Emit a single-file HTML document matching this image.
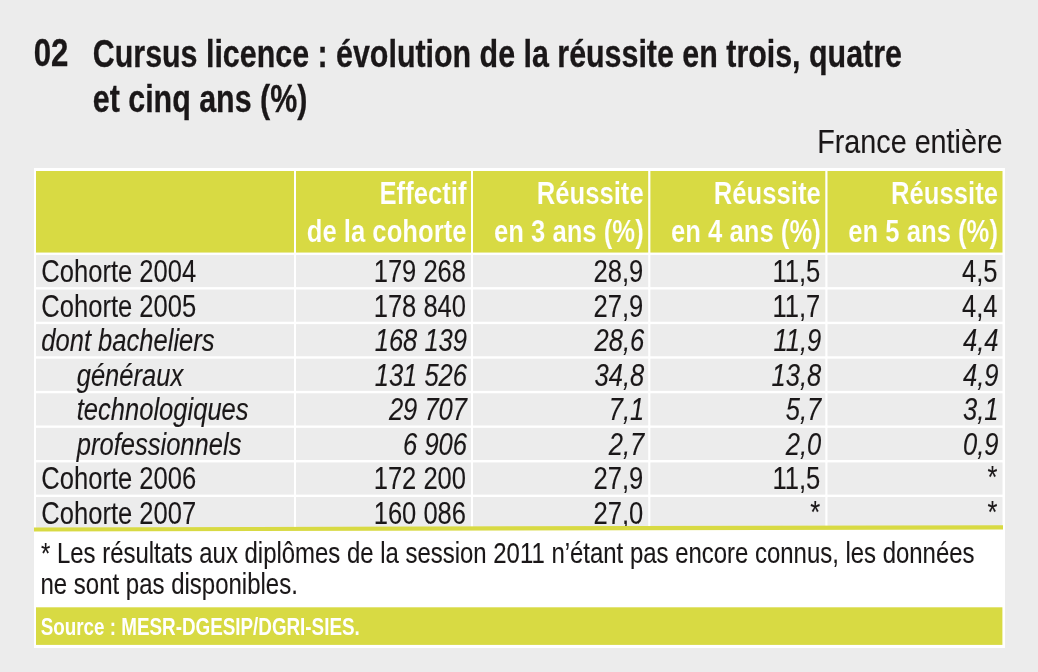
<!DOCTYPE html>
<html lang="fr"><head><meta charset="utf-8"><title>Cursus licence</title>
<style>
html,body{margin:0;padding:0}
body{width:1038px;height:672px;background:#ececec;overflow:hidden}
svg{display:block;font-family:"Liberation Sans",sans-serif;fill:#1a1718}
text{white-space:pre}
</style></head><body>
<svg width="1038" height="672" viewBox="0 0 1038 672">
<g>
<rect x="34" y="168" width="971" height="480" fill="#fff"/>
<rect x="36" y="171" width="258.00" height="81.55" fill="#d8da43"/>
<rect x="296.0" y="171" width="175.00" height="81.55" fill="#d8da43"/>
<rect x="473.0" y="171" width="175.20" height="81.55" fill="#d8da43"/>
<rect x="650.4" y="171" width="174.90" height="81.55" fill="#d8da43"/>
<rect x="827.5" y="171" width="175.00" height="81.55" fill="#d8da43"/>
<rect x="36" y="254.95" width="258.00" height="32.18" fill="#ececec"/>
<rect x="296.0" y="254.95" width="175.00" height="32.18" fill="#ececec"/>
<rect x="473.0" y="254.95" width="175.20" height="32.18" fill="#ececec"/>
<rect x="650.4" y="254.95" width="174.90" height="32.18" fill="#ececec"/>
<rect x="827.5" y="254.95" width="175.00" height="32.18" fill="#ececec"/>
<rect x="36" y="289.53" width="258.00" height="32.18" fill="#ececec"/>
<rect x="296.0" y="289.53" width="175.00" height="32.18" fill="#ececec"/>
<rect x="473.0" y="289.53" width="175.20" height="32.18" fill="#ececec"/>
<rect x="650.4" y="289.53" width="174.90" height="32.18" fill="#ececec"/>
<rect x="827.5" y="289.53" width="175.00" height="32.18" fill="#ececec"/>
<rect x="36" y="324.11" width="258.00" height="32.18" fill="#ececec"/>
<rect x="296.0" y="324.11" width="175.00" height="32.18" fill="#ececec"/>
<rect x="473.0" y="324.11" width="175.20" height="32.18" fill="#ececec"/>
<rect x="650.4" y="324.11" width="174.90" height="32.18" fill="#ececec"/>
<rect x="827.5" y="324.11" width="175.00" height="32.18" fill="#ececec"/>
<rect x="36" y="358.69" width="258.00" height="32.18" fill="#ececec"/>
<rect x="296.0" y="358.69" width="175.00" height="32.18" fill="#ececec"/>
<rect x="473.0" y="358.69" width="175.20" height="32.18" fill="#ececec"/>
<rect x="650.4" y="358.69" width="174.90" height="32.18" fill="#ececec"/>
<rect x="827.5" y="358.69" width="175.00" height="32.18" fill="#ececec"/>
<rect x="36" y="393.27" width="258.00" height="32.18" fill="#ececec"/>
<rect x="296.0" y="393.27" width="175.00" height="32.18" fill="#ececec"/>
<rect x="473.0" y="393.27" width="175.20" height="32.18" fill="#ececec"/>
<rect x="650.4" y="393.27" width="174.90" height="32.18" fill="#ececec"/>
<rect x="827.5" y="393.27" width="175.00" height="32.18" fill="#ececec"/>
<rect x="36" y="427.85" width="258.00" height="32.18" fill="#ececec"/>
<rect x="296.0" y="427.85" width="175.00" height="32.18" fill="#ececec"/>
<rect x="473.0" y="427.85" width="175.20" height="32.18" fill="#ececec"/>
<rect x="650.4" y="427.85" width="174.90" height="32.18" fill="#ececec"/>
<rect x="827.5" y="427.85" width="175.00" height="32.18" fill="#ececec"/>
<rect x="36" y="462.43" width="258.00" height="32.18" fill="#ececec"/>
<rect x="296.0" y="462.43" width="175.00" height="32.18" fill="#ececec"/>
<rect x="473.0" y="462.43" width="175.20" height="32.18" fill="#ececec"/>
<rect x="650.4" y="462.43" width="174.90" height="32.18" fill="#ececec"/>
<rect x="827.5" y="462.43" width="175.00" height="32.18" fill="#ececec"/>
<rect x="36" y="497.01" width="258.00" height="32.18" fill="#ececec"/>
<rect x="296.0" y="497.01" width="175.00" height="32.18" fill="#ececec"/>
<rect x="473.0" y="497.01" width="175.20" height="32.18" fill="#ececec"/>
<rect x="650.4" y="497.01" width="174.90" height="32.18" fill="#ececec"/>
<rect x="827.5" y="497.01" width="175.00" height="32.18" fill="#ececec"/>
<text transform="translate(33.70 66.30) scale(0.8 1)" font-size="39" font-weight="700" stroke="#1a1718" stroke-width="0.3">02</text>
<text transform="translate(92.80 66.50) scale(0.8 1)" font-size="38" font-weight="700" stroke="#1a1718" stroke-width="0.3">Cursus licence : évolution de la réussite en trois, quatre</text>
<text transform="translate(92.80 111.90) scale(0.8 1)" font-size="38" font-weight="700" stroke="#1a1718" stroke-width="0.3">et cinq ans (%)</text>
<text transform="translate(1002.50 153.40) scale(0.857910447761194 1)" font-size="33.5" text-anchor="end" stroke="#1a1718" stroke-width="0.12">France entière</text>
<text transform="translate(466.50 204.10) scale(0.8026562500000001 1)" font-size="32" font-weight="700" text-anchor="end" fill="#fff" stroke="#d8da43" stroke-width="0.15">Effectif</text>
<text transform="translate(466.50 241.70) scale(0.8026562500000001 1)" font-size="32" font-weight="700" text-anchor="end" fill="#fff" stroke="#d8da43" stroke-width="0.15">de la cohorte</text>
<text transform="translate(643.70 204.10) scale(0.8026562500000001 1)" font-size="32" font-weight="700" text-anchor="end" fill="#fff" stroke="#d8da43" stroke-width="0.15">Réussite</text>
<text transform="translate(643.70 241.70) scale(0.8026562500000001 1)" font-size="32" font-weight="700" text-anchor="end" fill="#fff" stroke="#d8da43" stroke-width="0.15">en 3 ans (%)</text>
<text transform="translate(820.80 204.10) scale(0.8026562500000001 1)" font-size="32" font-weight="700" text-anchor="end" fill="#fff" stroke="#d8da43" stroke-width="0.15">Réussite</text>
<text transform="translate(820.80 241.70) scale(0.8026562500000001 1)" font-size="32" font-weight="700" text-anchor="end" fill="#fff" stroke="#d8da43" stroke-width="0.15">en 4 ans (%)</text>
<text transform="translate(998.00 204.10) scale(0.8026562500000001 1)" font-size="32" font-weight="700" text-anchor="end" fill="#fff" stroke="#d8da43" stroke-width="0.15">Réussite</text>
<text transform="translate(998.00 241.70) scale(0.8026562500000001 1)" font-size="32" font-weight="700" text-anchor="end" fill="#fff" stroke="#d8da43" stroke-width="0.15">en 5 ans (%)</text>
<text transform="translate(41.30 282.00) scale(0.8063091482649842 1)" font-size="31.7" stroke="#1a1718" stroke-width="0.12">Cohorte 2004</text>
<text transform="translate(466.00 282.00) scale(0.79875 1)" font-size="32.0" text-anchor="end" stroke="#1a1718" stroke-width="0.12">179 268</text>
<text transform="translate(643.20 282.00) scale(0.79875 1)" font-size="32.0" text-anchor="end" stroke="#1a1718" stroke-width="0.12">28,9</text>
<text transform="translate(820.30 282.00) scale(0.79875 1)" font-size="32.0" text-anchor="end" stroke="#1a1718" stroke-width="0.12">11,5</text>
<text transform="translate(997.50 282.00) scale(0.79875 1)" font-size="32.0" text-anchor="end" stroke="#1a1718" stroke-width="0.12">4,5</text>
<text transform="translate(41.30 316.58) scale(0.8063091482649842 1)" font-size="31.7" stroke="#1a1718" stroke-width="0.12">Cohorte 2005</text>
<text transform="translate(466.00 316.58) scale(0.79875 1)" font-size="32.0" text-anchor="end" stroke="#1a1718" stroke-width="0.12">178 840</text>
<text transform="translate(643.20 316.58) scale(0.79875 1)" font-size="32.0" text-anchor="end" stroke="#1a1718" stroke-width="0.12">27,9</text>
<text transform="translate(820.30 316.58) scale(0.79875 1)" font-size="32.0" text-anchor="end" stroke="#1a1718" stroke-width="0.12">11,7</text>
<text transform="translate(997.50 316.58) scale(0.79875 1)" font-size="32.0" text-anchor="end" stroke="#1a1718" stroke-width="0.12">4,4</text>
<text transform="translate(41.30 351.16) scale(0.8063091482649842 1)" font-size="31.7" font-style="italic" stroke="#1a1718" stroke-width="0.12">dont bacheliers</text>
<text transform="translate(467.00 351.16) scale(0.79875 1)" font-size="32.0" font-style="italic" text-anchor="end" stroke="#1a1718" stroke-width="0.12">168 139</text>
<text transform="translate(644.20 351.16) scale(0.79875 1)" font-size="32.0" font-style="italic" text-anchor="end" stroke="#1a1718" stroke-width="0.12">28,6</text>
<text transform="translate(821.30 351.16) scale(0.79875 1)" font-size="32.0" font-style="italic" text-anchor="end" stroke="#1a1718" stroke-width="0.12">11,9</text>
<text transform="translate(998.50 351.16) scale(0.79875 1)" font-size="32.0" font-style="italic" text-anchor="end" stroke="#1a1718" stroke-width="0.12">4,4</text>
<text transform="translate(76.70 385.74) scale(0.8063091482649842 1)" font-size="31.7" font-style="italic" stroke="#1a1718" stroke-width="0.12">généraux</text>
<text transform="translate(467.00 385.74) scale(0.79875 1)" font-size="32.0" font-style="italic" text-anchor="end" stroke="#1a1718" stroke-width="0.12">131 526</text>
<text transform="translate(644.20 385.74) scale(0.79875 1)" font-size="32.0" font-style="italic" text-anchor="end" stroke="#1a1718" stroke-width="0.12">34,8</text>
<text transform="translate(821.30 385.74) scale(0.79875 1)" font-size="32.0" font-style="italic" text-anchor="end" stroke="#1a1718" stroke-width="0.12">13,8</text>
<text transform="translate(998.50 385.74) scale(0.79875 1)" font-size="32.0" font-style="italic" text-anchor="end" stroke="#1a1718" stroke-width="0.12">4,9</text>
<text transform="translate(76.70 420.32) scale(0.8063091482649842 1)" font-size="31.7" font-style="italic" stroke="#1a1718" stroke-width="0.12">technologiques</text>
<text transform="translate(467.00 420.32) scale(0.79875 1)" font-size="32.0" font-style="italic" text-anchor="end" stroke="#1a1718" stroke-width="0.12">29 707</text>
<text transform="translate(644.20 420.32) scale(0.79875 1)" font-size="32.0" font-style="italic" text-anchor="end" stroke="#1a1718" stroke-width="0.12">7,1</text>
<text transform="translate(821.30 420.32) scale(0.79875 1)" font-size="32.0" font-style="italic" text-anchor="end" stroke="#1a1718" stroke-width="0.12">5,7</text>
<text transform="translate(998.50 420.32) scale(0.79875 1)" font-size="32.0" font-style="italic" text-anchor="end" stroke="#1a1718" stroke-width="0.12">3,1</text>
<text transform="translate(76.70 454.90) scale(0.8063091482649842 1)" font-size="31.7" font-style="italic" stroke="#1a1718" stroke-width="0.12">professionnels</text>
<text transform="translate(467.00 454.90) scale(0.79875 1)" font-size="32.0" font-style="italic" text-anchor="end" stroke="#1a1718" stroke-width="0.12">6 906</text>
<text transform="translate(644.20 454.90) scale(0.79875 1)" font-size="32.0" font-style="italic" text-anchor="end" stroke="#1a1718" stroke-width="0.12">2,7</text>
<text transform="translate(821.30 454.90) scale(0.79875 1)" font-size="32.0" font-style="italic" text-anchor="end" stroke="#1a1718" stroke-width="0.12">2,0</text>
<text transform="translate(998.50 454.90) scale(0.79875 1)" font-size="32.0" font-style="italic" text-anchor="end" stroke="#1a1718" stroke-width="0.12">0,9</text>
<text transform="translate(41.30 489.48) scale(0.8063091482649842 1)" font-size="31.7" stroke="#1a1718" stroke-width="0.12">Cohorte 2006</text>
<text transform="translate(466.00 489.48) scale(0.79875 1)" font-size="32.0" text-anchor="end" stroke="#1a1718" stroke-width="0.12">172 200</text>
<text transform="translate(643.20 489.48) scale(0.79875 1)" font-size="32.0" text-anchor="end" stroke="#1a1718" stroke-width="0.12">27,9</text>
<text transform="translate(820.30 489.48) scale(0.79875 1)" font-size="32.0" text-anchor="end" stroke="#1a1718" stroke-width="0.12">11,5</text>
<text transform="translate(997.50 488.48) scale(0.79875 1)" font-size="32.0" text-anchor="end" stroke="#1a1718" stroke-width="0.12">*</text>
<text transform="translate(41.30 524.06) scale(0.8063091482649842 1)" font-size="31.7" stroke="#1a1718" stroke-width="0.12">Cohorte 2007</text>
<text transform="translate(466.00 524.06) scale(0.79875 1)" font-size="32.0" text-anchor="end" stroke="#1a1718" stroke-width="0.12">160 086</text>
<text transform="translate(643.20 524.06) scale(0.79875 1)" font-size="32.0" text-anchor="end" stroke="#1a1718" stroke-width="0.12">27,0</text>
<text transform="translate(820.30 523.06) scale(0.79875 1)" font-size="32.0" text-anchor="end" stroke="#1a1718" stroke-width="0.12">*</text>
<text transform="translate(997.50 523.06) scale(0.79875 1)" font-size="32.0" text-anchor="end" stroke="#1a1718" stroke-width="0.12">*</text>
</g>
<g>
<polygon points="34,529 1005,527 1005,608 34,608" fill="#fff"/>
<polygon points="34,527.4 1003,525.3 1003,529.5 34,531.6" fill="#d8da43"/>
<rect x="36" y="607.3" width="966.4" height="37.6" fill="#d8da43"/>
<text transform="translate(41.00 562.80) scale(0.8059131818181818 1)" font-size="29.7" stroke="#1a1718" stroke-width="0.12">* Les résultats aux diplômes de la session 2011 n’étant pas encore connus, les données</text>
<text transform="translate(40.50 594.00) scale(0.8077636363636364 1)" font-size="29.7" stroke="#1a1718" stroke-width="0.12">ne sont pas disponibles.</text>
<text transform="translate(40.70 635.00) scale(0.7686530612244898 1)" font-size="24.5" font-weight="700" fill="#fff">Source : MESR-DGESIP/DGRI-SIES.</text>
</g>
</svg>
</body></html>
